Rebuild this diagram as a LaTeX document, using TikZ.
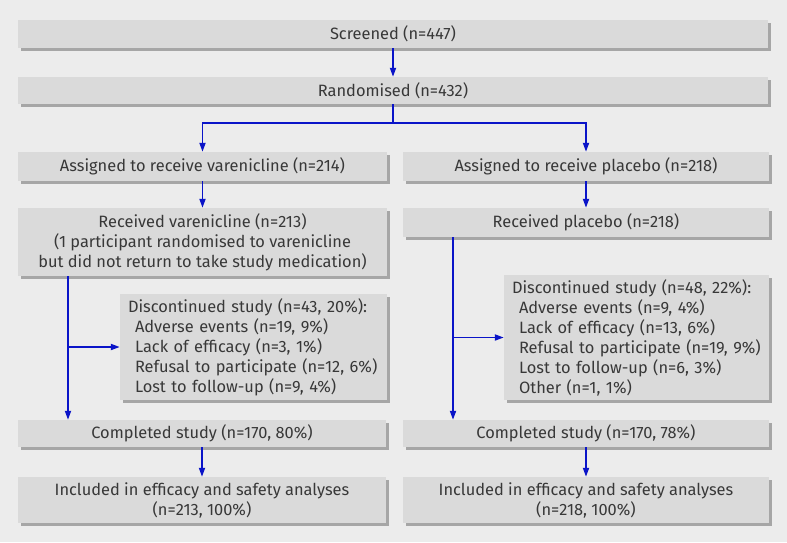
\documentclass[tikz,border=0pt]{standalone}
\usepackage{fontspec}
\setmainfont{Fira Sans}
\usetikzlibrary{arrows.meta,shadows}
\definecolor{bg}{HTML}{ECECEC}
\definecolor{boxfill}{HTML}{DADADA}
\definecolor{shad}{HTML}{A6A6A6}
\definecolor{txt}{HTML}{383838}
\definecolor{arrc}{HTML}{0A14C8}
\tikzset{
  box/.style={fill=boxfill, inner sep=0pt, text=txt, align=center,
    font=\fontsize{16.4}{20}\selectfont,
    drop shadow={shadow xshift=3pt, shadow yshift=-3pt, fill=shad, opacity=1}},
  listbox/.style={box, align=left, text width=#1, inner xsep=8pt},
  arr/.style={draw=arrc, line width=1.8pt, -{Triangle[length=9pt,width=6pt]}},
  ln/.style={draw=arrc, line width=1.8pt}
}
\begin{document}
\begin{tikzpicture}[x=1pt,y=-1pt]
\fill[bg] (0,0) rectangle (787,542);
\useasboundingbox (0,0) rectangle (787,542);
\node[box, minimum width=750pt, minimum height=28pt] (scr) at (393,34) {Screened (n=447)};
\node[box, minimum width=750pt, minimum height=27pt] (ran) at (393,90.5) {Randomised (n=432)};
\node[box, minimum width=369pt, minimum height=29pt] (av) at (202.5,166.5) {Assigned to receive varenicline (n=214)};
\node[box, minimum width=366pt, minimum height=29pt] (ap) at (586,166.5) {Assigned to receive placebo (n=218)};
\node[box, minimum width=369pt, minimum height=68pt] (rv) at (202.5,242) {Received varenicline (n=213)\\(1 participant randomised to varenicline\\but did not return to take study medication)};
\node[box, minimum width=366pt, minimum height=29pt] (rp) at (586,222.5) {Received placebo (n=218)};
\node[listbox=251pt, minimum height=106pt] (dv) at (253.5,347) {Discontinued study (n=43, 20\%):\\
\hspace*{7pt}Adverse events (n=19, 9\%)\\
\hspace*{7pt}Lack of efficacy (n=3, 1\%)\\
\hspace*{7pt}Refusal to participate (n=12, 6\%)\\
\hspace*{7pt}Lost to follow-up (n=9, 4\%)};
\node[listbox=249pt, minimum height=125pt] (dp) at (636.5,337.5) {Discontinued study (n=48, 22\%):\\
\hspace*{7pt}Adverse events (n=9, 4\%)\\
\hspace*{7pt}Lack of efficacy (n=13, 6\%)\\
\hspace*{7pt}Refusal to participate (n=19, 9\%)\\
\hspace*{7pt}Lost to follow-up (n=6, 3\%)\\
\hspace*{7pt}Other (n=1, 1\%)};
\node[box, minimum width=368pt, minimum height=27pt] (cv) at (202,433.5) {Completed study (n=170, 80\%)};
\node[box, minimum width=366pt, minimum height=27pt] (cp) at (586,433.5) {Completed study (n=170, 78\%)};
\node[box, minimum width=368pt, minimum height=46pt] (iv) at (202,500) {Included in efficacy and safety analyses\\(n=213, 100\%)};
\node[box, minimum width=366pt, minimum height=46pt] (ip) at (586,500) {Included in efficacy and safety analyses\\(n=218, 100\%)};
\coordinate (split) at (393,123);
\coordinate (vx) at (68,0);
\coordinate (px) at (453,0);
\draw[arr] (scr.south) -- (ran.north);
\draw[ln] (ran.south) -- (split);
\draw[arr] (split) -| (av.north);
\draw[arr] (split) -| (ap.north);
\draw[arr] (av.south) -- (rv.north);
\draw[arr] (ap.south) -- (rp.north);
\draw[arr] (rv.south -| vx) -- (cv.north -| vx);
\draw[arr] (vx |- dv.west) -- (dv.west);
\draw[arr] (rp.south -| px) -- (cp.north -| px);
\draw[arr] (px |- dp.west) -- (dp.west);
\draw[arr] (cv.south) -- (iv.north);
\draw[arr] (cp.south) -- (ip.north);
\end{tikzpicture}
\end{document}
